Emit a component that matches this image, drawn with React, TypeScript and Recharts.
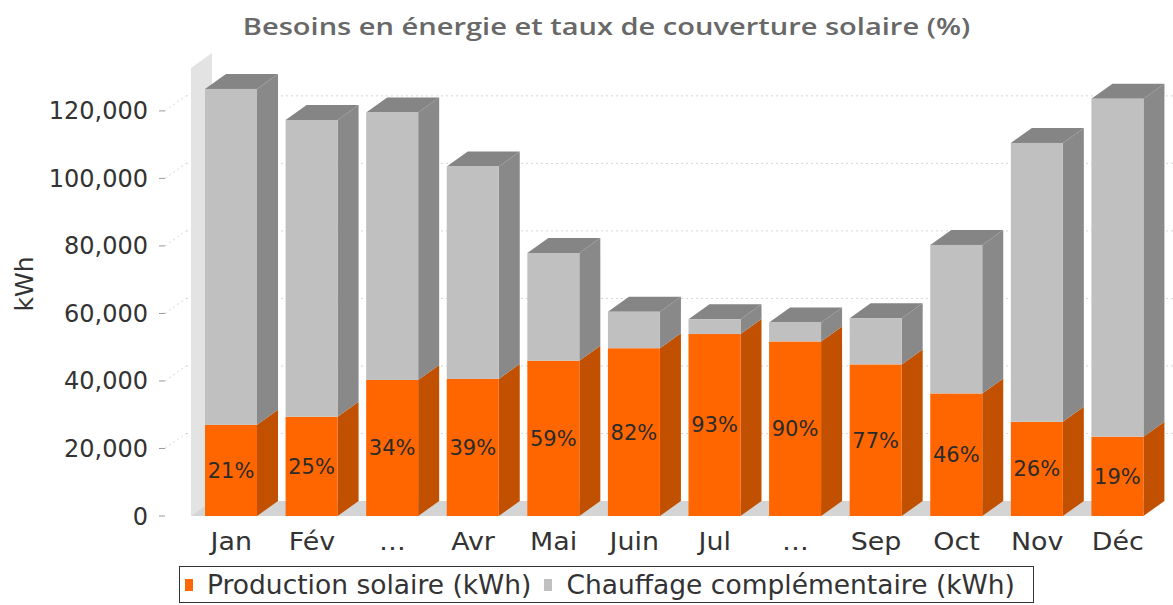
import React from 'react';
import {
  BarChart,
  Bar,
  XAxis,
  YAxis,
  CartesianGrid,
  ReferenceArea,
  LabelList,
} from 'recharts';

// values (kWh)
const months = ['Jan', 'Fév', '…', 'Avr', 'Mai', 'Juin', 'Jul', '…', 'Sep', 'Oct', 'Nov', 'Déc'];
const solaire = [27000, 29400, 40300, 40600, 46000, 49700, 53900, 51700, 44900, 36300, 27900, 23500];
const complement = [99500, 87900, 79200, 62900, 31900, 10800, 4400, 5600, 13700, 44000, 82600, 100100];
const coverage = ['21%', '25%', '34%', '39%', '59%', '82%', '93%', '90%', '77%', '46%', '26%', '19%'];
const yTicks = [0, 20000, 40000, 60000, 80000, 100000, 120000];
const seriesNames = ['Production solaire (kWh)', 'Chauffage complémentaire (kWh)'];

const DX = 21;
const DY = 15;
const AXIS_FONT = '"DejaVu Sans", sans-serif';

const data = months.map((m, i) => ({
  id: i,
  month: m,
  solaire: solaire[i],
  complement: complement[i],
  pct: coverage[i],
}));

const ORANGE = '#ff6600';
const ORANGE_SIDE = '#c15000';
const GREY = '#c0c0c0';
const GREY_SIDE = '#898989';
const GREY_TOP = '#858585';

const SolarBar = (p: any) => {
  const { x, y, width: w, height: h } = p;
  if (!h) return null;
  return (
    <g>
      <polygon
        points={`${x + w},${y} ${x + w + DX},${y - DY} ${x + w + DX},${y + h - DY} ${x + w},${y + h}`}
        fill={ORANGE_SIDE}
      />
      <rect x={x} y={y} width={w} height={h} fill={ORANGE} />
    </g>
  );
};

const ExtraBar = (p: any) => {
  const { x, y, width: w, height: h } = p;
  return (
    <g>
      <polygon
        points={`${x + w},${y} ${x + w + DX},${y - DY} ${x + w + DX},${y + h - DY} ${x + w},${y + h}`}
        fill={GREY_SIDE}
      />
      <polygon
        points={`${x},${y} ${x + DX},${y - DY} ${x + w + DX},${y - DY} ${x + w},${y}`}
        fill={GREY_TOP}
      />
      <rect x={x} y={y} width={w} height={h} fill={GREY} />
    </g>
  );
};

// left wall + floor of the 3D plot
const Walls = (p: any) => {
  const { x, y, width: w, height: h } = p;
  const b = y + h;
  return (
    <g>
      <polygon
        points={`${x},${b} ${x + DX},${b - DY} ${x + DX},${y - DY} ${x},${y}`}
        fill="#e3e3e3"
      />
      <polygon
        points={`${x},${b} ${x + DX},${b - DY} ${x + w},${b - DY} ${x + w - DX},${b}`}
        fill="#d4d4d4"
      />
    </g>
  );
};

const GridLine = (p: any) => {
  const { x1, x2, y1 } = p;
  if (y1 > 510 || y1 < 75) return <g />;
  return (
    <g>
      <line x1={x1} y1={y1} x2={x1 + DX} y2={y1 - DY} stroke="#d6d6d6" strokeDasharray="2 3" />
      <line x1={x1 + DX} y1={y1 - DY} x2={x2} y2={y1 - DY} stroke="#d6d6d6" strokeDasharray="2 3" />
    </g>
  );
};

const XTick = (p: any) => {
  const { x, y, payload } = p;
  return (
    <text
      transform={`translate(${x},${y}) scale(1.12,1)`}
      textAnchor="middle"
      dy="0.71em"
      fill="#333"
      fontSize={24}
      fontFamily={AXIS_FONT}
    >
      {months[payload.value]}
    </text>
  );
};

const YLabel = (p: any) => {
  const vb = p.viewBox || {};
  const cy = vb.y + vb.height / 2 - 8;
  return (
    <text
      x={24}
      y={cy}
      transform={`rotate(-90 24 ${cy})`}
      textAnchor="middle"
      dominantBaseline="central"
      fill="#333"
      fontSize={25}
      fontFamily={AXIS_FONT}
    >
      kWh
    </text>
  );
};

const App: React.FC = () => {
  return (
    <div style={{ position: 'absolute', left: 0, top: 0, width: 1173, height: 605, background: '#fff' }}>
      <div
        style={{
          position: 'absolute',
          top: 9,
          left: 20,
          width: 1173,
          textAlign: 'center',
          fontFamily: '"Open Sans", sans-serif',
          fontWeight: 600,
          fontSize: 24,
          color: '#686868',
          transform: 'scaleX(1.21)',
          transformOrigin: '50% 0',
        }}
      >
        Besoins en énergie et taux de couverture solaire (%)
      </div>
      <BarChart
        width={1173}
        height={605}
        data={data}
        margin={{ top: 68, right: 0, bottom: 49, left: 0 }}
      >
        <ReferenceArea y1={0} y2={132700} shape={Walls} />
        <CartesianGrid vertical={false} horizontal={GridLine} />
        <XAxis
          dataKey="id"
          height={40}
          padding={{ left: 26, right: 15 }}
          axisLine={false}
          tickLine={false}
          tickMargin={11}
          tick={<XTick />}
          interval={0}
        />
        <YAxis
          width={165}
          domain={[0, 132700]}
          ticks={yTicks}
          axisLine={false}
          tickSize={6}
          tickMargin={11}
          tickLine={{ stroke: '#999' }}
          tickFormatter={(v: number) => v.toLocaleString('en-US')}
          tick={{ fill: '#333', fontSize: 24, fontFamily: AXIS_FONT }}
          label={<YLabel />}
        />
        <Bar dataKey="solaire" stackId="a" barSize={52} shape={SolarBar} isAnimationActive={false}>
          <LabelList
            dataKey="pct"
            position="center"
            fill="#2b2b2b"
            fontSize={21}
            fontFamily={AXIS_FONT}
          />
        </Bar>
        <Bar dataKey="complement" stackId="a" barSize={52} shape={ExtraBar} isAnimationActive={false} />
      </BarChart>
      <div
        style={{
          position: 'absolute',
          left: 179,
          top: 566,
          width: 855,
          height: 37,
          border: '1.5px solid #333',
          boxSizing: 'border-box',
          display: 'flex',
          alignItems: 'center',
          paddingLeft: 5,
          fontFamily: AXIS_FONT,
          fontSize: 26.5,
          color: '#333',
          whiteSpace: 'nowrap',
        }}
      >
        <span style={{ display: 'inline-block', width: 8, height: 12, background: ORANGE, marginRight: 14 }} />
        <span style={{ marginRight: 13 }}>{seriesNames[0]}</span>
        <span style={{ display: 'inline-block', width: 8, height: 12, background: GREY, marginRight: 14 }} />
        <span>{seriesNames[1]}</span>
      </div>
    </div>
  );
};

export default App;
